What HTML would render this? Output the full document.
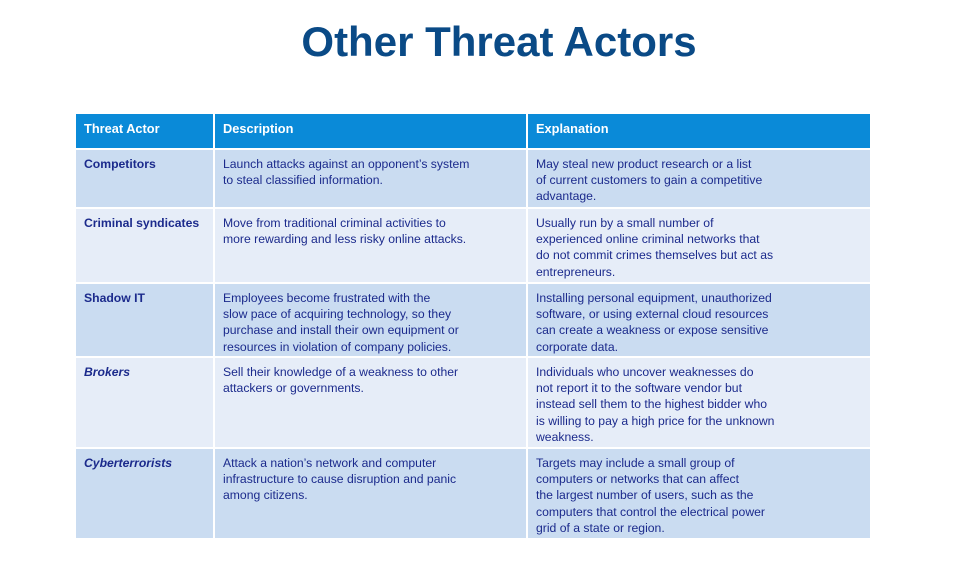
<!DOCTYPE html>
<html><head><meta charset="utf-8"><style>
body{margin:0;width:976px;height:574px;background:#fff;position:relative;overflow:hidden;font-family:"Liberation Sans",sans-serif}
h1{position:absolute;left:0;width:998px;top:18px;margin:0;text-align:center;font-size:42px;line-height:48px;font-weight:bold;color:#0a4a86;letter-spacing:0px}
.c{position:absolute;box-sizing:border-box;padding:6px 8px;font-size:12.2px;line-height:16.2px;color:#1b2a8c;white-space:nowrap}
.h{background:#0a8ad8;color:#fff;font-weight:bold;font-size:12.8px;padding-top:7px}
.d{background:#cadcf1}.l{background:#e6edf8}
.b{font-weight:bold}.i{font-weight:bold;font-style:italic}
</style></head><body>
<h1>Other Threat Actors</h1>
<div>
<div class="c h" style="left:76px;top:114px;width:137px;height:34px">Threat Actor</div>
<div class="c h" style="left:215px;top:114px;width:311px;height:34px">Description</div>
<div class="c h" style="left:528px;top:114px;width:342px;height:34px">Explanation</div>

<div class="c d b" style="left:76px;top:150px;width:137px;height:57px">Competitors</div>
<div class="c d" style="left:215px;top:150px;width:311px;height:57px">Launch attacks against an opponent’s system<br>to steal classified information.</div>
<div class="c d" style="left:528px;top:150px;width:342px;height:57px">May steal new product research or a list<br>of current customers to gain a competitive<br>advantage.</div>

<div class="c l b" style="left:76px;top:209px;width:137px;height:73px">Criminal syndicates</div>
<div class="c l" style="left:215px;top:209px;width:311px;height:73px">Move from traditional criminal activities to<br>more rewarding and less risky online attacks.</div>
<div class="c l" style="left:528px;top:209px;width:342px;height:73px">Usually run by a small number of<br>experienced online criminal networks that<br>do not commit crimes themselves but act as<br>entrepreneurs.</div>

<div class="c d b" style="left:76px;top:284px;width:137px;height:72px">Shadow IT</div>
<div class="c d" style="left:215px;top:284px;width:311px;height:72px">Employees become frustrated with the<br>slow pace of acquiring technology, so they<br>purchase and install their own equipment or<br>resources in violation of company policies.</div>
<div class="c d" style="left:528px;top:284px;width:342px;height:72px">Installing personal equipment, unauthorized<br>software, or using external cloud resources<br>can create a weakness or expose sensitive<br>corporate data.</div>

<div class="c l i" style="left:76px;top:358px;width:137px;height:89px">Brokers</div>
<div class="c l" style="left:215px;top:358px;width:311px;height:89px">Sell their knowledge of a weakness to other<br>attackers or governments.</div>
<div class="c l" style="left:528px;top:358px;width:342px;height:89px">Individuals who uncover weaknesses do<br>not report it to the software vendor but<br>instead sell them to the highest bidder who<br>is willing to pay a high price for the unknown<br>weakness.</div>

<div class="c d i" style="left:76px;top:449px;width:137px;height:89px">Cyberterrorists</div>
<div class="c d" style="left:215px;top:449px;width:311px;height:89px">Attack a nation’s network and computer<br>infrastructure to cause disruption and panic<br>among citizens.</div>
<div class="c d" style="left:528px;top:449px;width:342px;height:89px">Targets may include a small group of<br>computers or networks that can affect<br>the largest number of users, such as the<br>computers that control the electrical power<br>grid of a state or region.</div>
</div>
</body></html>
